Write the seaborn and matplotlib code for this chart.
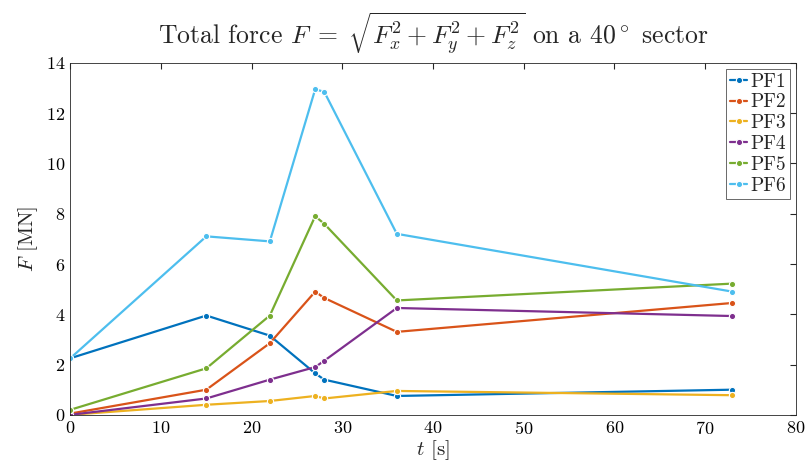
import pandas as pd
import seaborn as sns
import matplotlib.pyplot as plt

# time instants [s]
t = [0, 15, 22, 27, 28, 36, 73]

# total force per pressure field [MN]
pf1 = [2.25, 3.95, 3.15, 1.65, 1.40, 0.75, 1.00]
pf2 = [0.05, 1.00, 2.85, 4.90, 4.65, 3.30, 4.45]
pf3 = [0.00, 0.40, 0.55, 0.75, 0.65, 0.95, 0.78]
pf4 = [0.00, 0.65, 1.40, 1.90, 2.15, 4.25, 3.93]
pf5 = [0.20, 1.85, 3.95, 7.90, 7.60, 4.55, 5.22]
pf6 = [2.25, 7.10, 6.90, 12.95, 12.85, 7.20, 4.90]

series = ["PF1", "PF2", "PF3", "PF4", "PF5", "PF6"]
matlab_colors = ["#0072BD", "#D95319", "#EDB120", "#7E2F8E", "#77AC30",
                 "#4DBEEE"]

frames = []
for name, vals in zip(series, [pf1, pf2, pf3, pf4, pf5, pf6]):
    frames.append(pd.DataFrame({"t": t, "F": vals, "case": name}))
data = pd.concat(frames, ignore_index=True)

sns.set_style("white")
plt.rcParams["font.family"] = "serif"
plt.rcParams["font.serif"] = ["cmr10", "DejaVu Serif"]
plt.rcParams["mathtext.fontset"] = "cm"
plt.rcParams["axes.formatter.use_mathtext"] = True
plt.rcParams["axes.unicode_minus"] = False

fig, ax = plt.subplots(figsize=(8.08, 4.73), dpi=100)
fig.subplots_adjust(left=0.087, right=0.985, top=0.867, bottom=0.123)

sns.lineplot(data=data, x="t", y="F", hue="case", palette=matlab_colors,
             marker="o", markersize=4.5, markeredgewidth=0.8, linewidth=1.6,
             ax=ax)

ax.set_xlim(0, 80)
ax.set_ylim(0, 14)
ax.set_xticks(range(0, 81, 10))
ax.set_yticks(range(0, 15, 2))
ax.tick_params(direction="in", length=4, labelsize=13, color="#262626",
               top=True, right=True, colors="#262626")
ax.tick_params(axis="both", labelcolor="black")
for side in ax.spines.values():
    side.set_color("#262626")
    side.set_linewidth(0.6)

ax.set_xlabel(r"$t$ [s]", fontsize=15, labelpad=1)
ax.set_ylabel(r"$F$ [MN]", fontsize=15, labelpad=4)
ax.set_title(r"Total force $F\;=\;\sqrt{F_x^2 + F_y^2 + F_z^2}$ on a "
             r"$40^\circ$ sector", fontsize=18.5, pad=14)

leg = ax.legend(loc="upper right", fontsize=14, frameon=True,
                fancybox=False, borderpad=0.2, handlelength=0.9,
                handletextpad=0.15, labelspacing=0.15, borderaxespad=0.3)
leg.get_frame().set_edgecolor("#262626")
leg.get_frame().set_linewidth(0.6)

fig.savefig("out.png", dpi=100)
